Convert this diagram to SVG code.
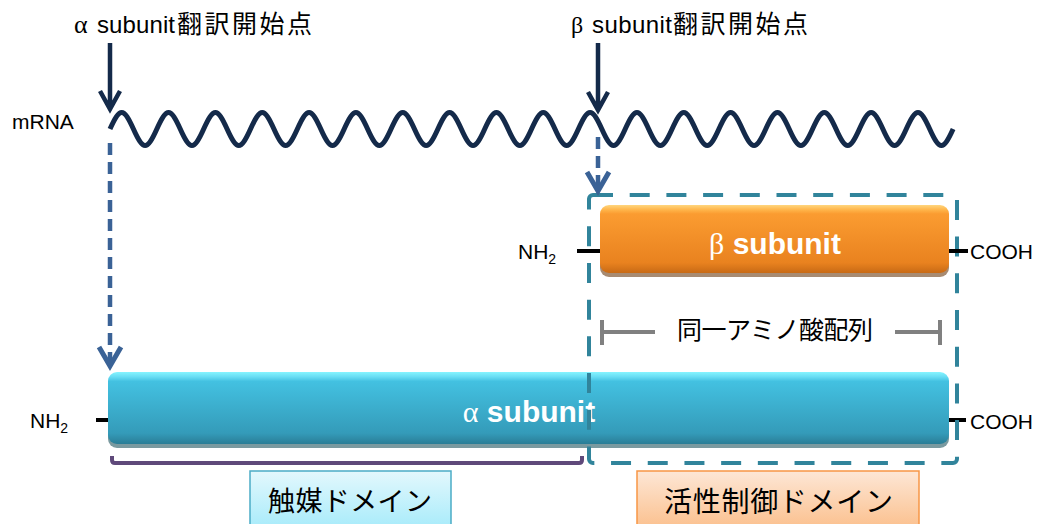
<svg xmlns="http://www.w3.org/2000/svg" width="1040" height="524" viewBox="0 0 1040 524">
<defs>
<linearGradient id="gA" x1="0" y1="0" x2="0" y2="1">
<stop offset="0" stop-color="#86f4ff"/><stop offset="0.07" stop-color="#66dcf3"/><stop offset="0.13" stop-color="#43c1e1"/><stop offset="0.85" stop-color="#349bb9"/><stop offset="1" stop-color="#2a7d96"/>
</linearGradient>
<linearGradient id="gB" x1="0" y1="0" x2="0" y2="1">
<stop offset="0" stop-color="#ffd67e"/><stop offset="0.07" stop-color="#ffb54a"/><stop offset="0.13" stop-color="#fb9c31"/><stop offset="0.85" stop-color="#e9821f"/><stop offset="1" stop-color="#c86a15"/>
</linearGradient>
<linearGradient id="gC" x1="0" y1="0" x2="0" y2="1">
<stop offset="0" stop-color="#e3f8fd"/><stop offset="1" stop-color="#a3eafa"/>
</linearGradient>
<linearGradient id="gD" x1="0" y1="0" x2="0" y2="1">
<stop offset="0" stop-color="#fde7d6"/><stop offset="1" stop-color="#fbbd88"/>
</linearGradient>
</defs>
<style>
.t{font-family:"Liberation Sans","Noto Sans CJK JP",sans-serif;fill:#000}
.j{font-family:"Noto Sans CJK JP","Liberation Sans",sans-serif;fill:#000}
.g{font-family:"Liberation Serif","DejaVu Serif",serif}
.w{font-family:"Liberation Sans","DejaVu Sans",sans-serif;font-weight:bold;fill:#fff;text-anchor:middle}
.solid{fill:none;stroke:#142a4a;stroke-width:4.5}
.dash{fill:none;stroke:#3a6296;stroke-width:4.5;stroke-dasharray:12 7}
.head{fill:none;stroke:#3a6296;stroke-width:5}
.stub{stroke:#000;stroke-width:4}
.gray{fill:none;stroke:#808080;stroke-width:4}
</style>
<text class="t" x="12" y="129" font-size="21">mRNA</text>
<g id="label-alpha-start">
<text x="74" y="33" font-size="26" class="g">α</text>
<text class="t" x="97" y="33" font-size="24" textLength="78">subunit</text>
<text class="j" x="177" y="33" font-size="25" textLength="135">翻訳開始点</text>
</g>
<g id="label-beta-start">
<text x="571" y="33" font-size="24" class="g">β</text>
<text class="t" x="592" y="33" font-size="24" textLength="80">subunit</text>
<text class="j" x="673" y="33" font-size="25" textLength="135">翻訳開始点</text>
</g>
<g id="mrna">
<path fill="none" stroke="#142a4a" stroke-width="5" stroke-linecap="butt" d="M110,129 c9.94,-22 13.48,-22 23.42,0 s13.48,22 23.42,0 s13.48,-22 23.42,0 s13.48,22 23.42,0 s13.48,-22 23.42,0 s13.48,22 23.42,0 s13.48,-22 23.42,0 s13.48,22 23.42,0 s13.48,-22 23.42,0 s13.48,22 23.42,0 s13.48,-22 23.42,0 s13.48,22 23.42,0 s13.48,-22 23.42,0 s13.48,22 23.42,0 s13.48,-22 23.42,0 s13.48,22 23.42,0 s13.48,-22 23.42,0 s13.48,22 23.42,0 s13.48,-22 23.42,0 s13.48,22 23.42,0 s13.48,-22 23.42,0 s13.48,22 23.42,0 s13.48,-22 23.42,0 s13.48,22 23.42,0 s13.48,-22 23.42,0 s13.48,22 23.42,0 s13.48,-22 23.42,0 s13.48,22 23.42,0 s13.48,-22 23.42,0 s13.48,22 23.42,0 s13.48,-22 23.42,0 s13.48,22 23.42,0 s13.48,-22 23.42,0 s13.48,22 23.42,0 s13.48,-22 23.42,0 s13.48,22 23.42,0"/>
</g>
<g id="alpha-subunit">
<rect x="108" y="376" width="841" height="72" rx="9" fill="#7a9aa0"/>
<rect x="108" y="372" width="841" height="72" rx="9" fill="url(#gA)"/>
<line class="stub" x1="96" y1="420" x2="108" y2="420"/>
<line class="stub" x1="949" y1="420" x2="966" y2="420"/>
<text class="w" x="529" y="422" font-size="30"><tspan class="g" font-weight="normal">α</tspan> subunit</text>
<text class="t" x="30" y="428" font-size="21">NH<tspan font-size="14" dy="5">2</tspan></text>
<text class="t" x="970" y="429" font-size="21">COOH</text>
</g>
<g id="regulatory-box">
<rect x="589" y="195" width="368" height="268" rx="4" fill="none" stroke="#31849b" stroke-width="4" stroke-dasharray="20 16.7"/>
</g>
<g id="beta-subunit">
<rect x="600" y="209" width="349" height="68" rx="9" fill="#a88b72"/>
<rect x="600" y="205" width="349" height="68" rx="9" fill="url(#gB)"/>
<line class="stub" x1="577" y1="251" x2="600" y2="251"/>
<line class="stub" x1="949" y1="251" x2="968" y2="251"/>
<text class="w" x="775" y="254" font-size="30"><tspan class="g" font-weight="normal">β</tspan> subunit</text>
<text class="t" x="518" y="259" font-size="21">NH<tspan font-size="14" dy="5">2</tspan></text>
<text class="t" x="970" y="259" font-size="21">COOH</text>
</g>
<g id="same-sequence">
<path class="gray" d="M602,320 V345 M602,332 H655 M895,332 H940 M940,320 V345"/>
<text class="j" x="677" y="339" font-size="25" textLength="196">同一アミノ酸配列</text>
</g>
<g id="catalytic-bracket">
<path fill="none" stroke="#5f497a" stroke-width="4" d="M112,456 V460 Q112,463 115,463 H579 Q582,463 582,460 V456"/>
</g>
<g id="catalytic-domain">
<rect x="250" y="471" width="201" height="62" fill="url(#gC)" stroke="#4bacc6" stroke-width="1.5"/>
<text class="j" x="268" y="511" font-size="27" textLength="164">触媒ドメイン</text>
</g>
<g id="regulatory-domain">
<rect x="637" y="471" width="282" height="62" fill="url(#gD)" stroke="#f79646" stroke-width="1.5"/>
<text class="j" x="664" y="512" font-size="28" textLength="229">活性制御ドメイン</text>
</g>
<g id="connectors">
<path class="solid" d="M110,43 V108 M100,91 L110,109 L120,91"/>
<path class="solid" d="M598,43 V108 M588,92 L598,110 L608,92"/>
<path class="dash" d="M110,143 V362"/>
<path class="head" d="M99,347 L110,366 L121,347"/>
<path class="dash" d="M598,137 V188"/>
<path class="head" d="M587,172 L598,191 L609,172"/>
</g>
</svg>
